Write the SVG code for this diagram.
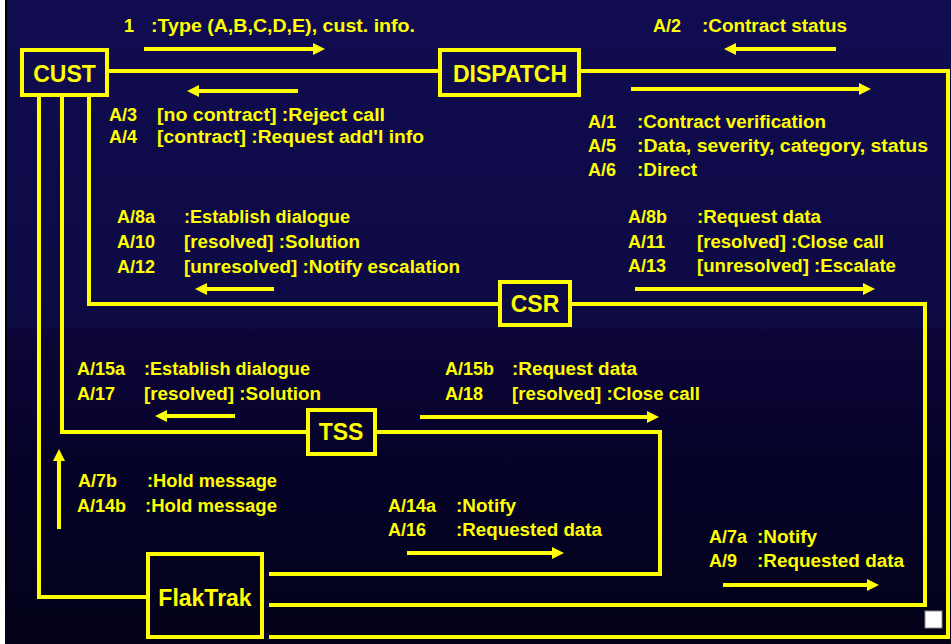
<svg xmlns="http://www.w3.org/2000/svg" width="951" height="644" viewBox="0 0 951 644">
  <defs>
    <linearGradient id="bg" x1="0" y1="0" x2="0" y2="1">
      <stop offset="0" stop-color="#110c50"/>
      <stop offset="0.5" stop-color="#0d0a44"/>
      <stop offset="0.52" stop-color="#0d0537"/>
      <stop offset="0.7" stop-color="#06032b"/>
      <stop offset="1" stop-color="#030218"/>
    </linearGradient>
    <marker id="ah" markerUnits="userSpaceOnUse" markerWidth="12" markerHeight="12" viewBox="0 0 12 12" refX="0" refY="6" orient="auto">
      <path d="M0,0 L12,6 L0,12 z" fill="#ffff00"/>
    </marker>
  </defs>
  <style>
    .box { fill: none; stroke: #ffff00; stroke-width: 4; }
    .wire { fill: none; stroke: #ffff00; stroke-width: 4; }
    .arrow { fill: none; stroke: #ffff00; stroke-width: 4; marker-end: url(#ah); }
    .name { font-family: "Liberation Sans", Arial, sans-serif; font-weight: bold; font-size: 23px; fill: #ffff00; text-anchor: middle; }
    .lbl { font-family: "Liberation Sans", Arial, sans-serif; font-weight: bold; font-size: 18px; fill: #ffff00; }
  </style>

  <!-- background -->
  <rect x="0" y="0" width="951" height="644" fill="url(#bg)"/>
  <rect x="0" y="0" width="5" height="644" fill="#ffffff"/>
  <rect x="5" y="0" width="2" height="600" fill="#000000"/>

  <!-- connectors -->
  <g id="connectors">
    <path class="wire" d="M108,71 H438"/>
    <path class="wire" d="M580,71 H948 V637 H269"/>
    <path class="wire" d="M572,304 H925 V605 H269"/>
    <path class="wire" d="M377,432 H660 V574 H269"/>
    <path class="wire" d="M39,97 V597 H146"/>
    <path class="wire" d="M62,97 V432 H306"/>
    <path class="wire" d="M89,97 V304 H498"/>

    <path class="arrow" d="M144,49 H313"/>
    <path class="arrow" d="M298,91 H199"/>
    <path class="arrow" d="M836,49 H736"/>
    <path class="arrow" d="M631,89 H859"/>
    <path class="arrow" d="M274,289 H207"/>
    <path class="arrow" d="M635,289 H863"/>
    <path class="arrow" d="M235,416 H167"/>
    <path class="arrow" d="M420,417 H647"/>
    <path class="arrow" d="M59,529 V461"/>
    <path class="arrow" d="M407,553 H552"/>
    <path class="arrow" d="M723,585 H867"/>
  </g>

  <!-- nodes -->
  <g id="cust">
    <rect class="box" x="22" y="50" width="85" height="45"/>
    <text class="name" x="64.5" y="82">CUST</text>
  </g>
  <g id="dispatch">
    <rect class="box" x="440" y="50" width="139" height="45"/>
    <text class="name" x="510" y="82">DISPATCH</text>
  </g>
  <g id="csr">
    <rect class="box" x="500" y="282" width="70" height="43"/>
    <text class="name" x="535" y="312">CSR</text>
  </g>
  <g id="tss">
    <rect class="box" x="308" y="410" width="67" height="44"/>
    <text class="name" x="341" y="440">TSS</text>
  </g>
  <g id="flaktrak">
    <rect class="box" x="148" y="554" width="114" height="83"/>
    <text class="name" x="205" y="606" font-size="25">FlakTrak</text>
  </g>

  <!-- message labels -->
  <g id="labels">
    <text class="lbl" x="124" y="32">1</text>
    <text class="lbl" x="151" y="32" textLength="264" lengthAdjust="spacingAndGlyphs">:Type (A,B,C,D,E), cust. info.</text>
    <text class="lbl" x="653" y="32">A/2</text>
    <text class="lbl" x="702" y="32" textLength="145" lengthAdjust="spacingAndGlyphs">:Contract status</text>

    <text class="lbl" x="109" y="121">A/3</text>
    <text class="lbl" x="157" y="121" textLength="228" lengthAdjust="spacingAndGlyphs">[no contract] :Reject call</text>
    <text class="lbl" x="109" y="143">A/4</text>
    <text class="lbl" x="157" y="143" textLength="267" lengthAdjust="spacingAndGlyphs">[contract] :Request add'l info</text>

    <text class="lbl" x="588" y="128">A/1</text>
    <text class="lbl" x="637" y="128" textLength="189" lengthAdjust="spacingAndGlyphs">:Contract verification</text>
    <text class="lbl" x="588" y="152">A/5</text>
    <text class="lbl" x="637" y="152" textLength="291" lengthAdjust="spacingAndGlyphs">:Data, severity, category, status</text>
    <text class="lbl" x="588" y="176">A/6</text>
    <text class="lbl" x="637" y="176" textLength="60" lengthAdjust="spacingAndGlyphs">:Direct</text>

    <text class="lbl" x="117" y="223">A/8a</text>
    <text class="lbl" x="184" y="223" textLength="166" lengthAdjust="spacingAndGlyphs">:Establish dialogue</text>
    <text class="lbl" x="117" y="248">A/10</text>
    <text class="lbl" x="184" y="248" textLength="176" lengthAdjust="spacingAndGlyphs">[resolved] :Solution</text>
    <text class="lbl" x="117" y="273">A/12</text>
    <text class="lbl" x="184" y="273" textLength="276" lengthAdjust="spacingAndGlyphs">[unresolved] :Notify escalation</text>

    <text class="lbl" x="628" y="223">A/8b</text>
    <text class="lbl" x="697" y="223" textLength="124" lengthAdjust="spacingAndGlyphs">:Request data</text>
    <text class="lbl" x="628" y="248">A/11</text>
    <text class="lbl" x="697" y="248" textLength="187" lengthAdjust="spacingAndGlyphs">[resolved] :Close call</text>
    <text class="lbl" x="628" y="272">A/13</text>
    <text class="lbl" x="697" y="272" textLength="199" lengthAdjust="spacingAndGlyphs">[unresolved] :Escalate</text>

    <text class="lbl" x="77" y="375">A/15a</text>
    <text class="lbl" x="144" y="375" textLength="166" lengthAdjust="spacingAndGlyphs">:Establish dialogue</text>
    <text class="lbl" x="77" y="400">A/17</text>
    <text class="lbl" x="144" y="400" textLength="177" lengthAdjust="spacingAndGlyphs">[resolved] :Solution</text>

    <text class="lbl" x="445" y="375">A/15b</text>
    <text class="lbl" x="512" y="375" textLength="125" lengthAdjust="spacingAndGlyphs">:Request data</text>
    <text class="lbl" x="445" y="400">A/18</text>
    <text class="lbl" x="512" y="400" textLength="188" lengthAdjust="spacingAndGlyphs">[resolved] :Close call</text>

    <text class="lbl" x="78" y="487">A/7b</text>
    <text class="lbl" x="147" y="487" textLength="130" lengthAdjust="spacingAndGlyphs">:Hold message</text>
    <text class="lbl" x="77" y="512">A/14b</text>
    <text class="lbl" x="145" y="512" textLength="132" lengthAdjust="spacingAndGlyphs">:Hold message</text>

    <text class="lbl" x="388" y="512">A/14a</text>
    <text class="lbl" x="456" y="512" textLength="60" lengthAdjust="spacingAndGlyphs">:Notify</text>
    <text class="lbl" x="388" y="536">A/16</text>
    <text class="lbl" x="456" y="536" textLength="146" lengthAdjust="spacingAndGlyphs">:Requested data</text>

    <text class="lbl" x="709" y="543">A/7a</text>
    <text class="lbl" x="757" y="543" textLength="60" lengthAdjust="spacingAndGlyphs">:Notify</text>
    <text class="lbl" x="709" y="567">A/9</text>
    <text class="lbl" x="757" y="567" textLength="147" lengthAdjust="spacingAndGlyphs">:Requested data</text>
  </g>

  <!-- corner marker -->
  <rect x="925" y="611" width="17" height="17" fill="#ffffff" stroke="#8a8a8a" stroke-width="1"/>
</svg>
